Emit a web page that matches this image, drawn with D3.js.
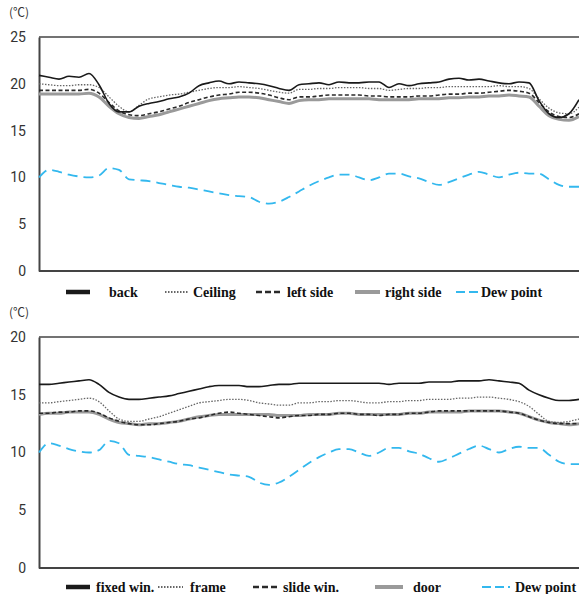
<!DOCTYPE html>
<html>
<head>
<meta charset="utf-8">
<script src="https://cdn.jsdelivr.net/npm/d3@7"></script>
<style>
  body { margin: 0; background: #fff; }
  svg { display: block; }
</style>
</head>
<body>
<svg width="579" height="594"></svg>
<script>
// time index (one reading per step), values in degC
const steps = d3.range(55);

const back = [20.9,20.7,20.5,20.8,20.7,21.1,19.9,17.9,17.0,17.0,17.6,17.9,18.1,18.4,18.6,19.0,19.8,20.1,20.3,20.0,
  20.2,20.1,20.0,19.8,19.5,19.3,19.9,20.0,20.1,19.9,20.2,20.1,20.1,20.2,20.2,19.6,20.0,19.8,20.0,20.1,
  20.2,20.5,20.6,20.4,20.5,20.3,20.1,20.0,20.2,20.1,18.2,16.8,16.4,16.8,18.3];
const ceiling = [20.0,19.9,19.8,19.8,19.9,19.9,19.6,18.6,17.6,17.0,17.7,18.4,18.6,18.8,18.9,19.1,19.3,19.5,19.6,19.6,
  19.7,19.6,19.5,19.3,19.1,19.0,19.4,19.4,19.5,19.5,19.6,19.6,19.6,19.5,19.5,19.3,19.4,19.5,19.5,19.6,
  19.6,19.7,19.7,19.7,19.7,19.7,19.8,19.7,19.7,19.5,18.4,17.4,16.9,16.8,17.5];
const leftSide = [19.3,19.3,19.3,19.3,19.3,19.4,19.0,18.0,17.1,16.7,16.6,16.8,17.0,17.3,17.6,18.0,18.3,18.6,18.8,18.9,
  19.1,19.1,19.0,18.8,18.5,18.3,18.6,18.6,18.7,18.8,18.8,18.8,18.8,18.7,18.7,18.6,18.6,18.6,18.7,18.7,
  18.8,18.9,18.9,19.0,19.0,19.1,19.2,19.3,19.2,19.0,18.0,17.0,16.5,16.4,16.8];
const rightSide = [18.9,18.9,18.9,18.9,18.9,19.0,18.6,17.6,16.8,16.4,16.3,16.5,16.7,17.0,17.3,17.6,17.9,18.2,18.4,18.5,
  18.6,18.6,18.5,18.3,18.1,17.9,18.2,18.3,18.3,18.4,18.4,18.4,18.4,18.4,18.3,18.3,18.3,18.3,18.4,18.4,
  18.4,18.5,18.5,18.6,18.6,18.7,18.7,18.8,18.7,18.6,17.6,16.6,16.2,16.1,16.5];
const dewPoint = [10.0,10.8,10.6,10.3,10.1,10.0,10.2,11.0,10.8,9.8,9.7,9.6,9.4,9.2,9.0,8.9,8.7,8.5,8.3,8.1,
  8.0,7.9,7.4,7.2,7.4,7.9,8.5,9.1,9.6,10.0,10.3,10.3,10.0,9.7,10.0,10.4,10.4,10.1,9.9,9.5,
  9.2,9.5,9.9,10.3,10.6,10.3,10.0,10.3,10.5,10.4,10.4,9.8,9.2,9.0,9.0];

const fixedWin = [15.9,15.9,16.0,16.1,16.2,16.3,15.9,15.2,14.8,14.6,14.6,14.7,14.8,14.9,15.1,15.3,15.5,15.7,15.8,15.8,
  15.8,15.7,15.7,15.8,15.9,15.9,16.0,16.0,16.0,16.0,16.0,16.0,16.0,16.0,16.0,15.9,16.0,16.0,16.0,16.1,
  16.1,16.1,16.2,16.2,16.2,16.3,16.2,16.1,16.0,15.4,15.0,14.7,14.5,14.5,14.6];
const frame = [14.3,14.3,14.4,14.5,14.6,14.7,14.4,13.6,12.9,12.7,12.7,12.9,13.1,13.4,13.7,14.0,14.3,14.4,14.5,14.6,
  14.6,14.5,14.3,14.2,14.1,14.1,14.3,14.3,14.4,14.4,14.5,14.5,14.4,14.3,14.3,14.4,14.4,14.5,14.5,14.6,
  14.6,14.6,14.7,14.7,14.8,14.8,14.7,14.6,14.4,14.0,13.3,12.7,12.6,12.7,12.9];
const slideWin = [13.4,13.4,13.5,13.5,13.6,13.6,13.4,13.0,12.7,12.5,12.4,12.4,12.5,12.6,12.7,12.9,13.0,13.2,13.4,13.5,
  13.4,13.3,13.2,13.1,13.0,13.1,13.2,13.2,13.3,13.3,13.4,13.4,13.3,13.3,13.2,13.3,13.3,13.4,13.4,13.5,
  13.6,13.6,13.6,13.6,13.6,13.6,13.6,13.5,13.4,13.1,12.8,12.6,12.5,12.5,12.5];
const door = [13.3,13.4,13.4,13.5,13.5,13.5,13.3,12.9,12.6,12.5,12.4,12.5,12.5,12.6,12.7,12.9,13.1,13.2,13.3,13.3,
  13.3,13.3,13.3,13.3,13.2,13.2,13.2,13.3,13.3,13.3,13.4,13.4,13.3,13.3,13.3,13.3,13.3,13.4,13.4,13.5,
  13.5,13.5,13.5,13.6,13.6,13.6,13.6,13.5,13.4,13.1,12.8,12.6,12.5,12.4,12.5];

const topTicks = [0, 5, 10, 15, 20, 25];
const bottomTicks = [0, 5, 10, 15, 20];
const topNames = ['back', 'Ceiling', 'left side', 'right side', 'Dew point'];
const bottomNames = ['fixed win.', 'frame', 'slide win.', 'door', 'Dew point'];

const styles = [
  {stroke: '#1a1a1a', width: 1.6, dash: null, legW: 4.5},
  {stroke: '#666', width: 1.3, dash: '1.5,1.5', legW: 2},
  {stroke: '#2a2a2a', width: 1.6, dash: '4,2.5', legW: 2.5},
  {stroke: '#9a9a9a', width: 3, dash: null, legW: 4},
  {stroke: '#33b8ee', width: 1.8, dash: '10,6', legW: 2}
];

const svg = d3.select('svg');

function drawPanel(cfg) {
  const x = d3.scaleLinear().domain([0, 54]).range([39, 579]);
  const y = d3.scaleLinear().domain([0, cfg.max]).range([cfg.bottom, cfg.top]);
  const g = svg.append('g');

  // frame
  g.append('line').attr('x1', 39).attr('x2', 579).attr('y1', cfg.top).attr('y2', cfg.top)
    .attr('stroke', '#444').attr('stroke-width', 1.5);

  const yAxis = d3.axisLeft(y).tickValues(cfg.ticks).tickSize(0).tickPadding(13);
  const ya = g.append('g').attr('transform', 'translate(39,0)').call(yAxis);
  ya.select('.domain').attr('stroke', '#444').attr('stroke-width', 2);
  ya.selectAll('text').attr('font-family', 'Roboto, "Noto Sans", sans-serif')
    .attr('font-size', 14).attr('fill', '#333');

  g.append('line').attr('x1', 39).attr('x2', 579).attr('y1', cfg.bottom).attr('y2', cfg.bottom)
    .attr('stroke', '#444').attr('stroke-width', 2);

  g.append('text').attr('x', 9).attr('y', cfg.top - 20)
    .attr('font-family', '"Noto Sans CJK JP", sans-serif').attr('font-size', 12).attr('fill', '#333')
    .text('(℃)');

  const line = d3.line().x((d, i) => x(i)).y(d => y(d)).curve(d3.curveMonotoneX);

  // draw gray first so the others sit on top
  [3, 1, 2, 0, 4].forEach(k => {
    g.append('path').datum(cfg.series[k])
      .attr('d', line)
      .attr('fill', 'none')
      .attr('stroke', styles[k].stroke)
      .attr('stroke-width', styles[k].width)
      .attr('stroke-dasharray', styles[k].dash);
  });

  // legend
  cfg.legend.forEach((it, k) => {
    const s = styles[k];
    g.append('line').attr('x1', it.lx).attr('x2', it.lx + it.lw)
      .attr('y1', cfg.legY).attr('y2', cfg.legY)
      .attr('stroke', s.stroke).attr('stroke-width', s.legW)
      .attr('stroke-dasharray', k === 2 ? '6,3' : (k === 4 ? '9,4' : s.dash));
    g.append('text').attr('x', it.tx).attr('y', cfg.legY + 5)
      .attr('font-family', '"Liberation Serif", "Times New Roman", serif')
      .attr('font-weight', 'bold').attr('font-size', 14).attr('fill', '#111')
      .text(cfg.names[k]);
  });
}

drawPanel({
  top: 37, bottom: 271, max: 25, ticks: topTicks,
  series: [back, ceiling, leftSide, rightSide, dewPoint],
  names: topNames, legY: 292,
  legend: [
    {lx: 66, lw: 24, tx: 109},
    {lx: 165, lw: 24, tx: 193},
    {lx: 256, lw: 27, tx: 287},
    {lx: 355, lw: 25, tx: 385},
    {lx: 456, lw: 24, tx: 481}
  ]
});

drawPanel({
  top: 337, bottom: 568, max: 20, ticks: bottomTicks,
  series: [fixedWin, frame, slideWin, door, dewPoint],
  names: bottomNames, legY: 587,
  legend: [
    {lx: 66, lw: 24, tx: 96},
    {lx: 158, lw: 25, tx: 190},
    {lx: 253, lw: 25, tx: 283},
    {lx: 375, lw: 28, tx: 413},
    {lx: 482, lw: 28, tx: 515}
  ]
});
</script>
</body>
</html>
